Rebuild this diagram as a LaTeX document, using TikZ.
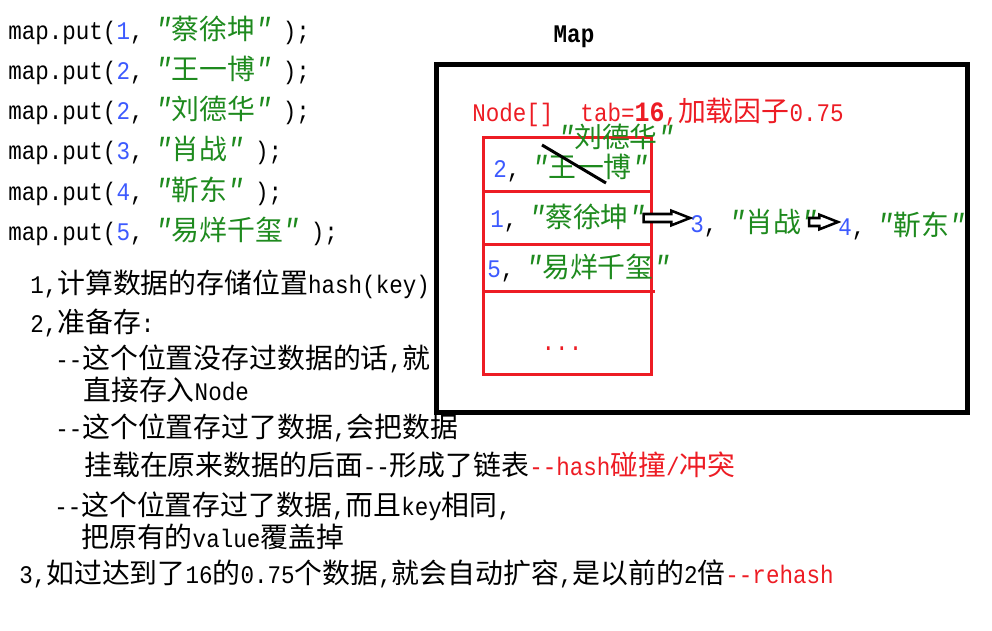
\documentclass[tikz,border=0pt]{standalone}
\usepackage{fontspec}
\setmainfont{Liberation Mono}[Ligatures=TeXOff, FakeStretch=0.89]
\newfontfamily\zh{Noto Sans CJK SC}[Scale=1.1]
\usetikzlibrary{calc}
\definecolor{numblue}{HTML}{3D5AFE}
\definecolor{strgreen}{HTML}{1E8A1E}
\definecolor{tabred}{HTML}{ED1C24}
% full-width quotes
\newcommand{\oq}{\makebox[20.9pt][r]{\fontsize{23}{23}\selectfont\itshape ″}}
\newcommand{\cq}{\makebox[20.9pt][l]{\fontsize{23}{23}\selectfont\itshape ″}}
\newcommand{\kv}[2]{\textcolor{numblue}{#1},\textcolor{strgreen}{\oq{\zh #2}\cq}}

\begin{document}
\begin{tikzpicture}[
  x=0.75pt, y=-0.75pt,
  txt/.style={anchor=west, inner sep=0pt, text height=17pt, text depth=2pt,
    font=\fontsize{19}{21}\selectfont},
  hollow/.style={draw=black, line width=1.9pt, fill=white,
    to path={let \p1=(\tikztostart), \p2=(\tikztotarget) in
      (\x1,\y1-3pt) -- (\x2-14pt,\y1-3pt) -- (\x2-14pt,\y1-5.5pt) -- (\x2,\y1)
      -- (\x2-14pt,\y1+5.5pt) -- (\x2-14pt,\y1+3pt) -- (\x1,\y1+3pt) -- cycle}},
  rowline/.style={tabred, line width=2.25pt},
]
\useasboundingbox (0,0) rectangle (992,631);

% =============================================
% Code: map.put(...)
% =============================================
\node[txt] (put1) at (8,30)  {map.put(\kv{1}{蔡徐坤});};
\node[txt] (put2) at (8,70)  {map.put(\kv{2}{王一博});};
\node[txt] (put3) at (8,110) {map.put(\kv{2}{刘德华});};
\node[txt] (put4) at (8,150) {map.put(\kv{3}{肖战});};
\node[txt] (put5) at (8,190) {map.put(\kv{4}{靳东});};
\node[txt] (put6) at (8,230) {map.put(\kv{5}{易烊千玺});};

% =============================================
% Notes
% =============================================
\node[txt] (note1)  at (30,283) {1,{\zh 计算数据的存储位置}hash(key)};
\node[txt] (note2)  at (30,322) {2,{\zh 准备存}:};
\node[txt] (note3a) at (55,358) {--{\zh 这个位置没存过数据的话},{\zh 就}};
\node[txt] (note3b) at (83,390) {{\zh 直接存入}Node};
\node[txt] (note4a) at (55,427) {--{\zh 这个位置存过了数据},{\zh 会把数据}};
\node[txt] (note4b) at (84,465)
  {{\zh 挂载在原来数据的后面}--{\zh 形成了链表}\textcolor{tabred}{--hash{\zh 碰撞}/{\zh 冲突}}};
\node[txt] (note5a) at (54,505) {--{\zh 这个位置存过了数据},{\zh 而且}key{\zh 相同},};
\node[txt] (note5b) at (81,537) {{\zh 把原有的}value{\zh 覆盖掉}};
\node[txt] (note6)  at (19,573)
  {3,{\zh 如过达到了}16{\zh 的}0.75{\zh 个数据},{\zh 就会自动扩容},{\zh 是以前的}2{\zh 倍}\textcolor{tabred}{--rehash}};

% =============================================
% Map box
% =============================================
\node[txt, anchor=center, font=\fontsize{19}{21}\selectfont\bfseries] (maplbl) at (574,33) {Map};
\draw[line width=3.75pt, fill=white] (436.5,65) rectangle (967.5,412);

\node[txt, text=tabred] (tabtitle) at (472,112)
  {Node[]~~tab={\fontsize{21}{22}\selectfont\bfseries 16},{\zh 加载因子}0.75};

% Table
\draw[rowline] (483,138) rectangle (651,374);
\draw[rowline] (483,192) -- (651,192);
\draw[rowline] (483,244) -- (651,244);
\draw[rowline] (483,291) -- (655,291);

\node[txt] (row2) at (493,168) {\kv{2}{王一博}};
\node[txt] (row1) at (490,218) {\kv{1}{蔡徐坤}};
\node[txt] (row5) at (487,267) {\kv{5}{易烊千玺}};
\node[txt, anchor=base, text=tabred] (dots) at (562,350) {...};

% overwritten value
\node[txt, text=strgreen] (newval) at (546,138) {\oq{\zh 刘德华}\cq};
\draw[line width=2.25pt] (542,145) -- (606,183);

% Linked list
\node[txt] (item3) at (690,222) {\kv{3}{肖战}};
\node[txt] (item4) at (838,225) {\kv{4}{靳东}};

\draw[hollow] ([xshift=-10pt]row1.east) to (item3.west);
\draw[hollow] ([xshift=-15pt]item3.east) to (item4.west);

\end{tikzpicture}
\end{document}
